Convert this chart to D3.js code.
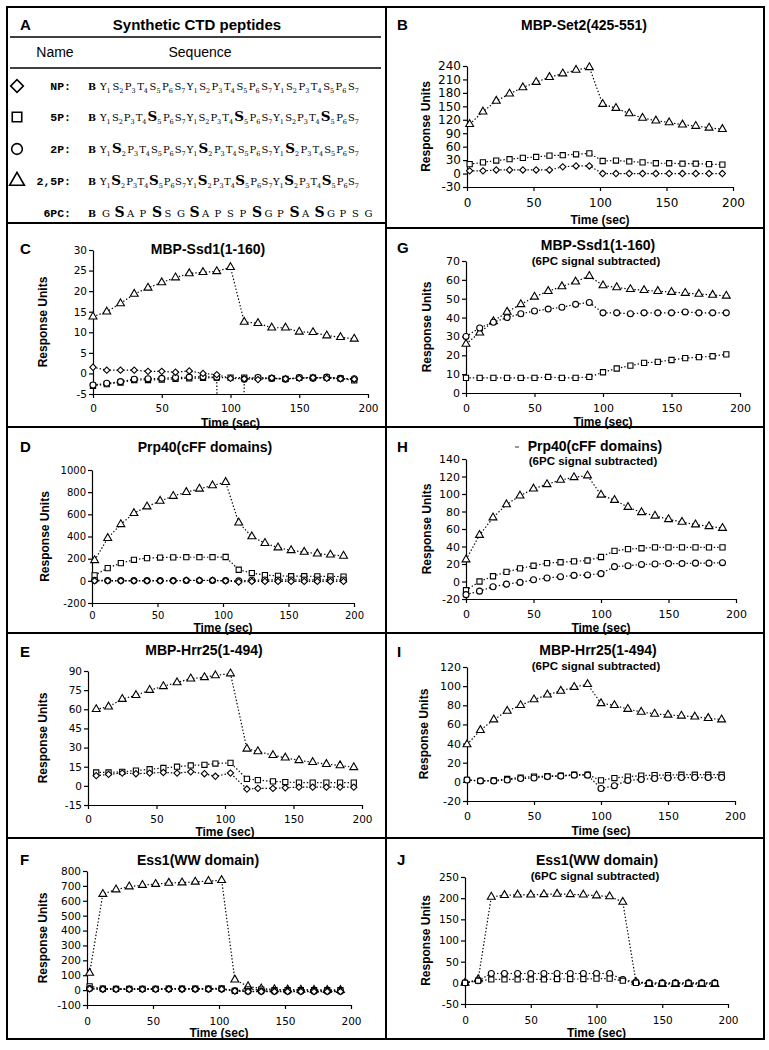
<!DOCTYPE html>
<html><head><meta charset="utf-8">
<script src="https://cdn.jsdelivr.net/npm/d3@7"></script>
<style>body{margin:0;background:#fff}svg{display:block}</style>
</head><body>
<svg id="c" width="769" height="1050"></svg>
<script>
// ---------------- DATA ----------------
const xTicks = [0, 50, 100, 150, 200];
const timesStd = [0,10,20,30,40,50,60,70,80,90,100,110,120,130,140,150,160,170,180,190];
const timesOff2 = [2,12,22,32,42,52,62,72,82,92,102,112,122,132,142,152,162,172,182,192];
const timesE = [6,15,25,35,45,55,65,75,85,93,104,116,124,135,144,154,164,174,184,194];

const yTicksB = [-30, 0, 30, 60, 90, 120, 150, 180, 210, 240];
const yTicksC = [-5, 0, 5, 10, 15, 20, 25, 30];
const yTicksG = [0, 10, 20, 30, 40, 50, 60, 70];
const yTicksD = [-200, 0, 200, 400, 600, 800, 1000];
const yTicksH = [-20, 0, 20, 40, 60, 80, 100, 120, 140];
const yTicksE = [-15, 0, 15, 30, 45, 60, 75, 90];
const yTicksI = [-20, 0, 20, 40, 60, 80, 100, 120];
const yTicksF = [-100, 0, 100, 200, 300, 400, 500, 600, 700, 800];
const yTicksJ = [-50, 0, 50, 100, 150, 200, 250];

// B: MBP-Set2(425-551)
const setTri = [110, 138, 162, 178, 192, 204, 215, 223, 231, 237, 155, 146, 134, 124, 118, 114, 109, 106, 102, 99];
const setSq  = [21, 25, 29, 32, 35, 37, 40, 41, 43, 45, 28, 29, 27, 25, 23, 23, 22, 22, 21, 20];
const setDia = [6, 6, 8, 8, 8, 8, 8, 15, 17, 17, 0, 0, 0, 0, 0, 0, 0, 0, 0, 0];
// C: MBP-Ssd1(1-160)
const ssdTri  = [13.8, 15, 17, 19.3, 20.8, 22.1, 23.3, 24.3, 24.6, 24.8, 25.8, 12.5, 12.2, 11.1, 11.1, 10.1, 10, 9.2, 8.8, 8.4];
const ssdDia  = [1.5, 0.8, 0.8, 0.8, 0.5, 0.5, 0.3, 0.6, 0, -0.3, -1.2, -1.3, -1.5, -1.1, -1.3, -1.2, -1.0, -1.2, -1.3, -1.4];
const ssdSq   = [-3, -2.6, -2.2, -1.6, -1.6, -1.5, -1.3, -1.2, -1.1, -1.0, -1.0, -1.0, -1.1, -1.2, -1.3, -1.1, -1.0, -1.0, -1.2, -1.7];
const ssdCirc = [-2.8, -2.4, -2.0, -1.4, -1.3, -1.2, -1.0, -0.9, -0.8, -0.9, -300, -1.4, -1.0, -1.2, -1.4, -1.0, -1.2, -0.9, -1.2, -1.3];
// G: MBP-Ssd1 subtracted
const gTri  = [26, 32, 38, 43, 47, 51, 54, 56.5, 59, 62, 57, 56, 55, 54.5, 54, 53.5, 53, 52.5, 52, 51.5];
const gCirc = [30, 34.5, 37.5, 40, 42, 43.5, 44.5, 45.5, 47, 48, 42.5, 42.5, 42, 42.5, 42.5, 42.5, 43, 42.5, 42.5, 42.5];
const gSq   = [8, 8, 8, 8, 8, 8, 8.5, 8, 8, 8.5, 11, 13, 14.5, 16, 16.5, 17.5, 18.5, 19, 19.5, 20.5];
// D: Prp40(cFF domains)
const dTri  = [185, 385, 510, 610, 670, 720, 765, 800, 830, 860, 890, 525, 400, 340, 300, 275, 260, 245, 235, 225];
const dSq   = [50, 115, 160, 190, 205, 210, 212, 213, 213, 213, 215, 100, 70, 52, 45, 42, 42, 40, 40, 38];
const dDia  = [0, 0, 0, 0, 0, 0, 0, 5, 5, 5, 0, -10, -5, -5, -5, -5, -5, -5, -5, -5];
const dCirc = [5, 3, 2, 2, 2, 2, 2, 3, 3, 3, 2, 0, 5, 8, 8, 8, 8, 8, 8, 8];
// H: Prp40 subtracted
const hTri  = [25, 53, 73, 88, 98, 106, 111, 116, 119, 121, 99, 93, 85, 79, 75, 71, 68, 65, 63, 61];
const hSq   = [-10, 0, 6, 11, 15, 18, 21, 22, 23, 24, 28, 35, 37, 38, 39, 39, 39, 39, 39, 39];
const hCirc = [-15, -11, -6, -3, -1, 2, 4, 5.5, 7, 7.5, 9, 17, 18, 19.5, 20, 20.5, 20.5, 21, 21, 21.5];
// E: MBP-Hrr25(1-494)
const eTri = [60, 62, 68, 71, 75, 78, 81, 84, 85, 86.5, 88, 29, 27, 24, 22, 20, 18.5, 17, 16, 14.5];
const eSq  = [10.5, 10.5, 11, 12, 13, 14, 15, 16, 16.5, 17.5, 18, 5.5, 4.5, 3.5, 3, 2.5, 2.5, 2.5, 2.5, 2.5];
const eDia = [8, 9, 10, 9.5, 10, 10.5, 10, 11, 9.5, 7.5, 10, -2.5, -2, -2, -1.5, -1, -1, -1, -1, -1];
// I: MBP-Hrr25 subtracted
const iTri  = [39, 54, 65, 74, 80, 86, 91, 95, 99, 102, 82, 80, 76, 73, 71, 70, 69, 68, 66.5, 65];
const iSq   = [2, 1, 1.5, 3, 4.5, 5.5, 6, 6.5, 7.5, 7.5, 1.5, 4, 5.5, 6.5, 7, 7, 7.5, 7.5, 7.5, 7.5];
const iCirc = [2, 1, 1, 2, 3.5, 4, 5.5, 6, 7, 7, -7, -4, 1.5, 2.5, 3.5, 4, 4.5, 4.5, 4.5, 4.5];
// F: Ess1(WW domain)
const fTri  = [115, 645, 675, 695, 705, 712, 720, 722, 727, 732, 738, 70, 25, 10, 5, 3, 2, 1, 0, 0];
const fSq   = [25, 10, 8, 8, 8, 8, 10, 10, 10, 10, 12, -5, 5, 3, 0, 0, 0, 0, 0, 0];
const fCirc = [10, 8, 8, 8, 8, 8, 8, 8, 8, 8, 8, -5, -8, -8, -8, -8, -8, -8, -8, -8];
const fDia  = [8, 6, 5, 5, 5, 5, 6, 6, 6, 6, 6, -6, -10, -10, -10, -10, -10, -10, -10, -10];
// J: Ess1 subtracted
const jTri  = [0, 8, 203, 207, 208, 208, 209, 210, 209, 208, 206, 204, 191, 2, -3, -3, -3, -3, -3, -3];
const jCirc = [0, 5, 22, 22, 22, 22, 22, 22, 22, 22, 22, 22, 8, 2, 0, 0, 0, 0, 0, 0];
const jSq   = [0, 5, 8, 8, 8, 8, 8, 9, 9, 9, 10, 10, 5, 0, -1, -1, -1, -1, -1, -1];

// Table (panel A)
const peptideNames = ["NP:", "5P:", "2P:", "2,5P:", "6PC:"];
const peptideSymbols = ["dia", "sq", "circ", "tri", null];
const residues = ["Y","S","P","T","S","P","S"];
const phosphoPositions = [[], [5], [2], [2,5]];
const pc6Letters = ["G","S","A","P","S","S","G","S","A","P","S","P","S","G","P","S","A","S","G","P","S","G"];
const pc6BoldIdx = [1, 4, 7, 12, 15, 17];

// ---------------- LAYOUT ----------------
const panels = [
  {L:'B', title:'MBP-Set2(425-551)', sub:null, lx:397, ly:25, tx:584, ty:25, x0:467, x1:733, yT:66, yB:187, ylx:426, fs:12, xl:203, xt:220, times:timesOff2, ticks:yTicksB,
    series:[['tri',setTri],['sq',setSq],['dia',setDia]]},
  {L:'C', title:'MBP-Ssd1(1-160)', sub:null, lx:20, ly:249, tx:208, ty:249, x0:93, x1:368, yT:250, yB:394, ylx:43, fs:10.5, xl:408, xt:423, times:timesStd, ticks:yTicksC,
    series:[['tri',ssdTri],['sq',ssdSq],['circ',ssdCirc],['dia',ssdDia]]},
  {L:'G', title:'MBP-Ssd1(1-160)', sub:'(6PC signal subtracted)', lx:397, ly:248, tx:598, ty:245, sy:261, x0:466, x1:740, yT:261, yB:393, ylx:427, fs:11, xl:408, xt:422, times:timesStd, ticks:yTicksG,
    series:[['tri',gTri],['circ',gCirc],['sq',gSq]]},
  {L:'D', title:'Prp40(cFF domains)', sub:null, lx:20, ly:447, tx:205, ty:447, x0:92, x1:354, yT:470, yB:603, ylx:45, fs:10, xl:615, xt:628, times:timesOff2, ticks:yTicksD,
    series:[['tri',dTri],['sq',dSq],['circ',dCirc],['dia',dDia]]},
  {L:'H', title:'Prp40(cFF domains)', sub:'(6PC signal subtracted)', lx:397, ly:447, tx:595, ty:446, sy:461, x0:466, x1:736, yT:459, yB:599, ylx:427, fs:11, xl:614, xt:628, times:timesStd, ticks:yTicksH,
    series:[['tri',hTri],['sq',hSq],['circ',hCirc]]},
  {L:'E', title:'MBP-Hrr25(1-494)', sub:null, lx:20, ly:652, tx:204, ty:650, x0:88, x1:362, yT:671, yB:805, ylx:43, fs:10.5, xl:819, xt:832, times:timesE, ticks:yTicksE,
    series:[['tri',eTri],['sq',eSq],['dia',eDia]]},
  {L:'I', title:'MBP-Hrr25(1-494)', sub:'(6PC signal subtracted)', lx:397, ly:652, tx:598, ty:650, sy:666, x0:467, x1:735, yT:667, yB:801, ylx:424, fs:11, xl:816, xt:831, times:timesStd, ticks:yTicksI,
    series:[['tri',iTri],['sq',iSq],['circ',iCirc]]},
  {L:'F', title:'Ess1(WW domain)', sub:null, lx:20, ly:860, tx:198, ty:860, x0:87, x1:351, yT:871, yB:1005, ylx:43, fs:10.5, xl:1021, xt:1033, times:timesOff2, ticks:yTicksF,
    series:[['tri',fTri],['sq',fSq],['circ',fCirc],['dia',fDia]]},
  {L:'J', title:'Ess1(WW domain)', sub:'(6PC signal subtracted)', lx:397, ly:860, tx:597, ty:860, sy:876, x0:465, x1:728, yT:877, yB:1004, ylx:426, fs:10.5, xl:1020, xt:1033, times:timesStd, ticks:yTicksJ,
    series:[['tri',jTri],['circ',jCirc],['sq',jSq]]}
];

const svg = d3.select('#c');
const SANS = "'Liberation Sans', Arial, sans-serif";
const symType = {tri:d3.symbolTriangle, sq:d3.symbolSquare, circ:d3.symbolCircle, dia:d3.symbolSquare};
const symRot = {tri:0, sq:0, circ:0, dia:45};
const symSize = {tri:27, sq:27, circ:28, dia:20};

// ---------------- FRAME ----------------
svg.append('rect').attr('x',7).attr('y',7).attr('width',757).attr('height',1032)
  .attr('fill','none').attr('stroke','#000').attr('stroke-width',2);
const frameSegs = [[386,7,386,1039],[7,223,386,223],[7,427,386,427],[7,633,386,633],[7,838,386,838],
  [386,228,764,228],[386,427,764,427],[386,633,764,633],[386,838,764,838]];
svg.selectAll('line.frame').data(frameSegs).enter().append('line').attr('class','frame')
  .attr('x1',d=>d[0]).attr('y1',d=>d[1]).attr('x2',d=>d[2]).attr('y2',d=>d[3])
  .attr('stroke','#000').attr('stroke-width',2);

// ---------------- PANEL A ----------------
svg.append('text').attr('x',20).attr('y',30).text('A').attr('font-family',SANS).attr('font-weight','bold').attr('font-size',15);
svg.append('text').attr('x',197).attr('y',30).attr('text-anchor','middle').text('Synthetic CTD peptides')
  .attr('font-family',SANS).attr('font-weight','bold').attr('font-size',15);
[37,68].forEach(yy => svg.append('line').attr('x1',10).attr('x2',381).attr('y1',yy).attr('y2',yy).attr('stroke','#000').attr('stroke-width',1.3));
svg.append('text').attr('x',55).attr('y',57).attr('text-anchor','middle').text('Name').attr('font-family',SANS).attr('font-size',14);
svg.append('text').attr('x',200).attr('y',57).attr('text-anchor','middle').text('Sequence').attr('font-family',SANS).attr('font-size',14);

const rowY = [86, 117, 149, 181, 213];
const SEQF = "'DejaVu Serif', 'Liberation Serif', serif";
const bigSize = {dia:80, sq:90, circ:90, tri:95};
peptideNames.forEach((nm, r) => {
  const yy = rowY[r];
  const s = peptideSymbols[r];
  if (s) {
    svg.append('path').attr('d', d3.symbol().type(symType[s]).size(bigSize[s])())
      .attr('transform',`translate(17,${yy}) rotate(${symRot[s]})`).attr('fill','none').attr('stroke','#000').attr('stroke-width',1.6);
  }
  svg.append('text').attr('x',71).attr('y',yy+4).attr('text-anchor','end').text(nm)
    .attr('font-family',"'Liberation Mono', monospace").attr('font-size',11.5).attr('font-weight', 'bold');
  svg.append('text').attr('x',88).attr('y',yy+4).text('B')
    .attr('font-family',SEQF).attr('font-weight','bold').attr('font-size',9.5);
  if (r < 4) {
    const isBold = k => residues[k % 7] === 'S' && phosphoPositions[r].includes((k % 7) + 1);
    let nb = 0;
    for (let k = 0; k < 20; k++) if (isBold(k)) nb++;
    const extra = 3.5;
    const adv = (248 - extra * nb) / 20;
    let xx = 100;
    for (let k = 0; k < 21; k++) {
      const pos = (k % 7) + 1;
      const bold = isBold(k);
      const t = svg.append('text').attr('x', xx).attr('y', yy+4).attr('font-family', SEQF).attr('fill', '#000');
      t.append('tspan').text(residues[k % 7]).attr('font-size', bold ? 13.5 : 10).attr('font-weight', bold ? 'bold' : 'normal');
      t.append('tspan').text(pos).attr('font-size', 6.5).attr('dy', 2.5);
      xx += adv + (bold ? extra : 0);
    }
  } else {
    pc6Letters.forEach((ch, k) => {
      const bold = pc6BoldIdx.includes(k);
      svg.append('text').attr('x', 102 + k * 12.5).attr('y', yy+4).text(ch).attr('fill', '#000')
        .attr('font-family', SEQF).attr('font-size', bold ? 14 : 10).attr('font-weight', bold ? 'bold' : 'normal');
    });
  }
});

// ---------------- CHART PANELS ----------------
panels.forEach((p, pi) => {
  const g = svg.append('g');
  const x = d3.scaleLinear().domain([0, 200]).range([p.x0, p.x1]);
  const yd = [p.ticks[0], p.ticks[p.ticks.length - 1]];
  const y = d3.scaleLinear().domain(yd).range([p.yB, p.yT]);

  g.append('text').attr('x', p.lx).attr('y', p.ly + 5).text(p.L)
    .attr('font-family', SANS).attr('font-weight', 'bold').attr('font-size', 15);
  g.append('text').attr('x', p.tx).attr('y', p.ty + 5).attr('text-anchor', 'middle').text(p.title)
    .attr('font-family', SANS).attr('font-weight', 'bold').attr('font-size', 14);
  if (p.sub) g.append('text').attr('x', p.tx - 2).attr('y', p.sy + 4).attr('text-anchor', 'middle').text(p.sub)
    .attr('font-family', SANS).attr('font-weight', 'bold').attr('font-size', 11.5);

  const ya = g.append('g').attr('transform', `translate(${p.x0},0)`)
    .call(d3.axisLeft(y).tickValues(p.ticks).tickSize(4).tickSizeOuter(0).tickFormat(d => String(d)));
  const xa = g.append('g').attr('transform', `translate(0,${p.yB})`)
    .call(d3.axisBottom(x).tickValues(xTicks).tickSize(4).tickSizeOuter(0).tickFormat(d => String(d)));
  [ya, xa].forEach(a => {
    a.selectAll('path,line').attr('stroke', '#000').attr('stroke-width', 1.2);
    a.selectAll('text').attr('font-family', "'DejaVu Sans', Verdana, sans-serif").attr('font-size', p.fs).attr('fill', '#000');
  });
  ya.selectAll('text').attr('x', -6);
  xa.selectAll('text').attr('y', 0).attr('dy', 0).attr('transform', `translate(0,${p.xl - p.yB + p.fs * 0.36})`);

  g.append('text').attr('x', (p.x0 + p.x1) / 2).attr('y', p.xt + 4).attr('text-anchor', 'middle').text('Time (sec)')
    .attr('font-family', SANS).attr('font-weight', 'bold').attr('font-size', 12);
  g.append('text').attr('transform', `translate(${p.ylx},${(p.yT + p.yB) / 2}) rotate(-90)`).attr('dy', '0.35em')
    .attr('text-anchor', 'middle').text('Response Units')
    .attr('font-family', SANS).attr('font-weight', 'bold').attr('font-size', 12);

  const clipId = 'clip' + pi;
  svg.append('clipPath').attr('id', clipId).append('rect')
    .attr('x', p.x0).attr('y', p.yT - 10).attr('width', p.x1 - p.x0 + 10).attr('height', p.yB - p.yT + 10);
  const line = d3.line().x(d => x(d.t)).y(d => y(d.v));
  const sData = p.series.map(([sym, vals]) => ({sym, pts: vals.map((v, i) => ({t: p.times[i], v}))}));
  g.selectAll('path.ln').data(sData).enter().append('path').attr('class', 'ln')
    .attr('d', d => line(d.pts)).attr('fill', 'none').attr('stroke', '#000')
    .attr('stroke-width', 1.2).attr('stroke-dasharray', '1.4,2').attr('clip-path', `url(#${clipId})`);
  sData.forEach(s => {
    g.selectAll(null).data(s.pts.filter(d => d.v >= yd[0] && d.v <= yd[1])).enter().append('path')
      .attr('d', d3.symbol().type(symType[s.sym]).size(symSize[s.sym])())
      .attr('transform', d => `translate(${x(d.t)},${y(d.v)}) rotate(${symRot[s.sym]})`)
      .attr('fill', '#fff').attr('stroke', '#000').attr('stroke-width', 1.1);
  });
});

// small stray marks next to the H title in the reference
const strayMarks = [[515, 447, 519], [530, 448, 532]];
svg.selectAll('line.stray').data(strayMarks).enter().append('line').attr('class','stray')
  .attr('x1', d => d[0]).attr('x2', d => d[2]).attr('y1', d => d[1]).attr('y2', d => d[1])
  .attr('stroke', '#555').attr('stroke-width', 1.2);
</script>
</body></html>
